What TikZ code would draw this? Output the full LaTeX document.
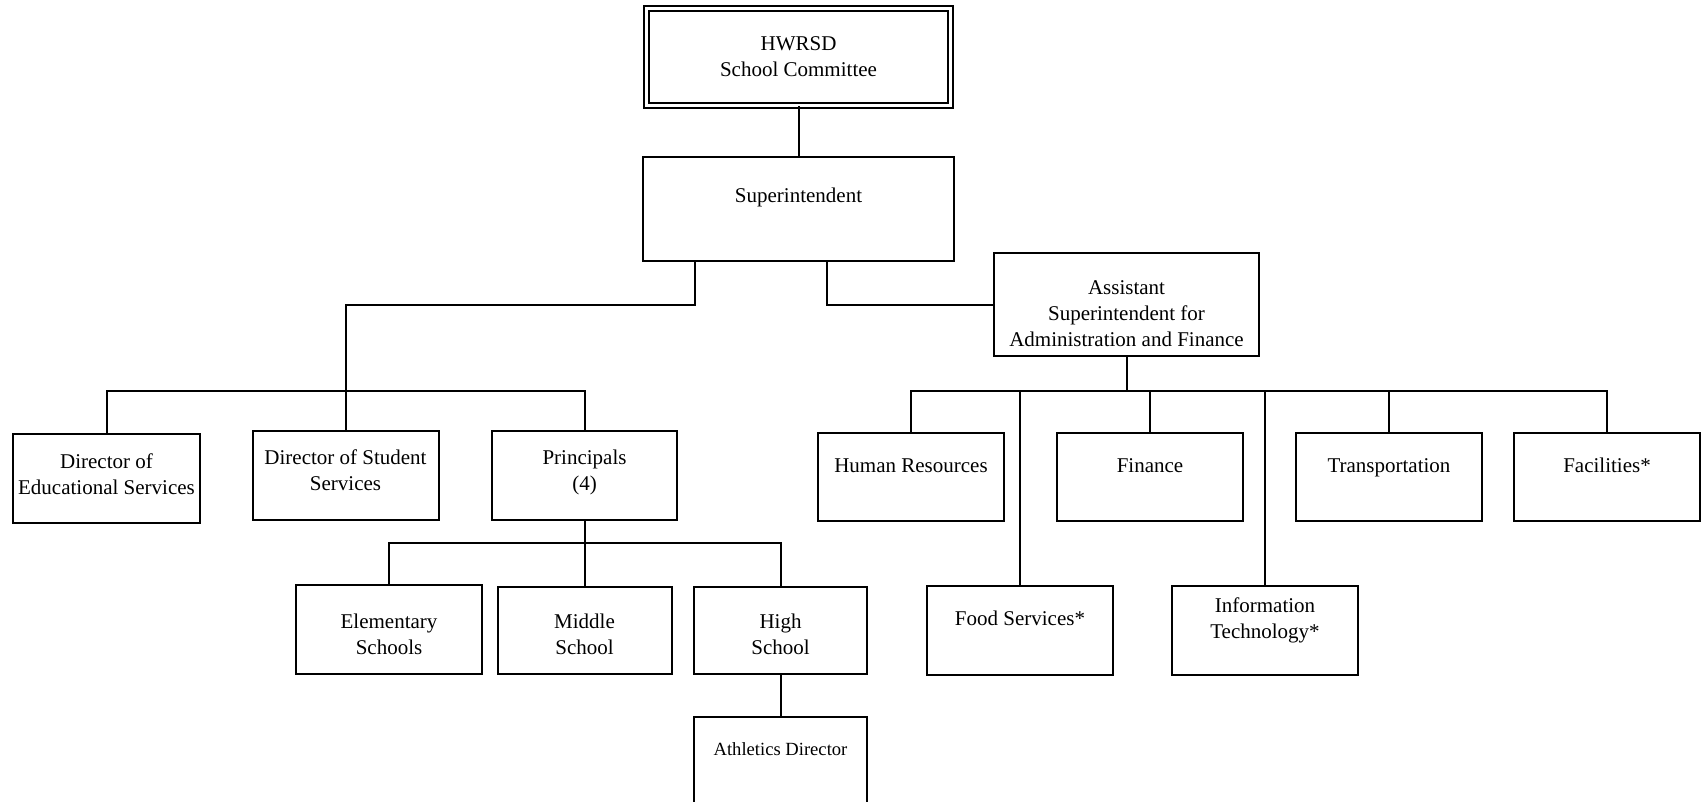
\documentclass[tikz,border=0pt]{standalone}
\usepackage{fontspec}
\setmainfont{Liberation Serif}
\begin{document}
\begin{tikzpicture}[x=0.5pt,y=-0.5pt,
	unit/.style={draw,line width=1pt,inner xsep=2pt,inner ysep=0pt,align=center,
		font=\fontsize{10.5}{13}\selectfont},
	dim/.style n args={3}{minimum width=#1,text height=#2,text depth=#3},
	link/.style={line width=1pt}]
	
	\useasboundingbox (0,0) rectangle (1702,802);
	
	% Top
	\node[unit,double,double distance=1.5pt,minimum width=152pt,minimum height=48.5pt] (board) at (798.5,57) {HWRSD\\School Committee};
	\node[unit,dim={155.5pt}{23pt}{29pt}] (supt) at (798.5,209) {Superintendent};
	\node[unit,dim={132.5pt}{46.5pt}{5pt}] (asst) at (1126.5,304.5) {Assistant\\Superintendent for\\Administration and Finance};
	
	% Left branch
	\node[unit,dim={93.5pt}{30pt}{14.5pt}] (edsvc) at (106.5,478.5) {Director of\\Educational Services};
	\node[unit,dim={93pt}{29.5pt}{15pt}] (stusvc) at (345.5,475.5) {Director of Student\\Services};
	\node[unit,dim={92.5pt}{29.5pt}{15pt}] (princ) at (584.5,475.5) {Principals\\(4)};
	
	% Schools
	\node[unit,dim={93pt}{34.5pt}{10pt}] (elem) at (389,629.5) {Elementary\\Schools};
	\node[unit,dim={87pt}{33.5pt}{10pt}] (mid) at (584.5,630.5) {Middle\\School};
	\node[unit,dim={86.5pt}{33.5pt}{10pt}] (high) at (780.5,630.5) {High\\School};
	\node[unit,dim={86.5pt}{19pt}{25.5pt},font=\fontsize{9.3}{11}\selectfont] (ath) at (780.5,761.5) {Athletics Director};
	
	% Right branch
	\node[unit,dim={93pt}{19.5pt}{24.5pt}] (hr) at (911,477) {Human Resources};
	\node[unit,dim={93pt}{19.5pt}{24.5pt}] (fin) at (1150,477) {Finance};
	\node[unit,dim={93pt}{19.5pt}{24.5pt}] (trans) at (1389,477) {Transportation};
	\node[unit,dim={93pt}{19.5pt}{24.5pt}] (fac) at (1607,477) {Facilities*};
	\node[unit,dim={93pt}{19.5pt}{25pt}] (food) at (1020,630.5) {Food Services*};
	\node[unit,dim={93pt}{26pt}{18.5pt}] (it) at (1265,630.5) {Information\\Technology*};
	
	% Buses
	\coordinate (lbus) at (345.5,391);
	\coordinate (pbus) at (584.5,543);
	\coordinate (rbus) at (1126.5,391);
	
	% Lines
	\draw[link] (board) -- (supt);
	\draw[link] ([xshift=-52pt]supt.south) -- ++(0,43) -| (lbus);
	\draw[link] ([xshift=14pt]supt.south) |- (asst.west);
	\draw[link] (edsvc.north) |- (lbus) -| (princ.north);
	\draw[link] (stusvc.north) -- (lbus);
	\draw[link] (princ) -- (mid);
	\draw[link] (elem.north) |- (pbus) -| (high.north);
	\draw[link] (high) -- (ath);
	\draw[link] (asst) -- (rbus);
	\draw[link] (hr.north) |- (rbus) -| (fac.north);
	\foreach \n in {food,fin,it,trans}
		\draw[link] (\n.north) -- (\n.north |- rbus);
	
\end{tikzpicture}
\end{document}
